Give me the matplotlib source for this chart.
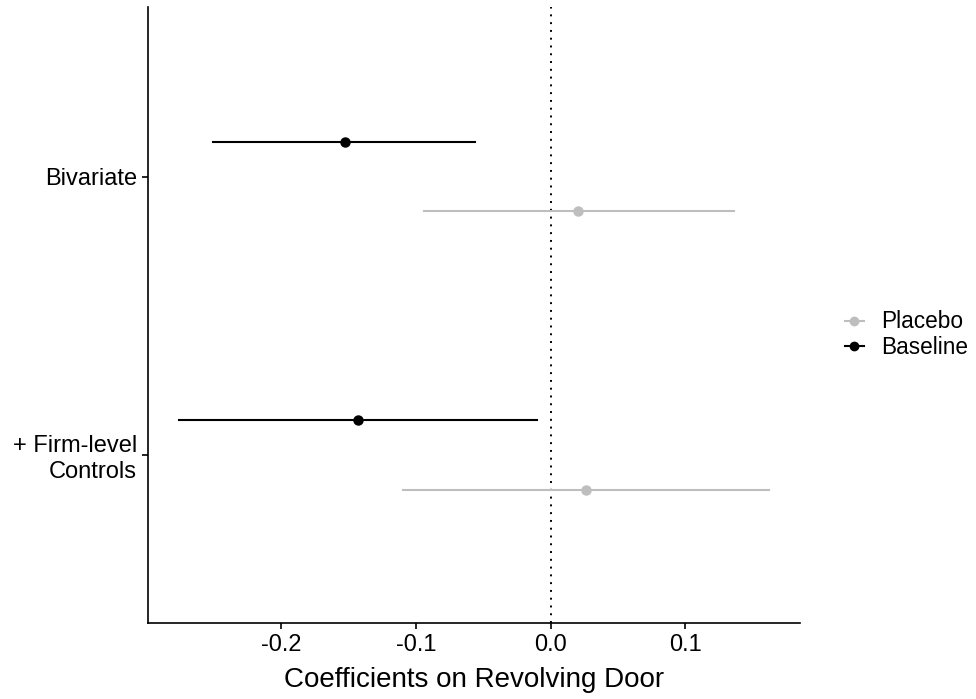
import matplotlib.pyplot as plt
from matplotlib.lines import Line2D

plt.rcParams['font.family'] = ['Liberation Sans', 'DejaVu Sans']

# model labels, top to bottom
models = ['Bivariate', '+ Firm-level\nControls']
ypos = [2, 1]

# estimates with confidence interval ends
baseline_est = [-0.153, -0.143]
baseline_lo = [-0.251, -0.276]
baseline_hi = [-0.056, -0.010]

placebo_est = [0.020, 0.026]
placebo_lo = [-0.094, -0.110]
placebo_hi = [0.136, 0.162]

xticks = [-0.2, -0.1, 0.0, 0.1]
xticklabels = ['-0.2', '-0.1', '0.0', '0.1']

black = '#000000'
grey = '#bebebe'
dodge = 0.125

fig = plt.figure(figsize=(9.76, 6.99), dpi=100)
ax = fig.add_axes([0.1516, 0.1087, 0.668, 0.8813])

ax.axvline(0, color='black', lw=1.4, linestyle=(0, (1, 3)), zorder=1)

for i in range(len(models)):
    yb = ypos[i] + dodge
    yp = ypos[i] - dodge
    ax.plot([baseline_lo[i], baseline_hi[i]], [yb, yb], color=black, lw=1.5, zorder=2)
    ax.plot(baseline_est[i], yb, 'o', color=black, ms=6.5, zorder=3)
    ax.plot([placebo_lo[i], placebo_hi[i]], [yp, yp], color=grey, lw=1.5, zorder=2)
    ax.plot(placebo_est[i], yp, 'o', color=grey, ms=6.5, zorder=3)

ax.set_xlim(-0.299, 0.185)
ax.set_ylim(0.395, 2.61)
ax.set_xticks(xticks)
ax.set_xticklabels(xticklabels)
ax.set_yticks(ypos)
ax.set_yticklabels(models, ha='right', multialignment='right')

for s in ['top', 'right']:
    ax.spines[s].set_visible(False)
for s in ['left', 'bottom']:
    ax.spines[s].set_linewidth(1.2)
ax.tick_params(axis='both', length=4.5, width=1.2, labelsize=17, colors='black', pad=3.5)

ax.set_xlabel('Coefficients on Revolving Door', fontsize=20, labelpad=8)

handles = [
    Line2D([], [], color=grey, lw=1.5, marker='o', ms=6),
    Line2D([], [], color=black, lw=1.5, marker='o', ms=6),
]
fig.legend(handles, ['Placebo', 'Baseline'], loc='center left',
           bbox_to_anchor=(0.854, 0.521), frameon=False, fontsize=16.3,
           borderpad=0, handlelength=0.85, handletextpad=0.75, labelspacing=0.12)

fig.savefig('out.png', dpi=100)
